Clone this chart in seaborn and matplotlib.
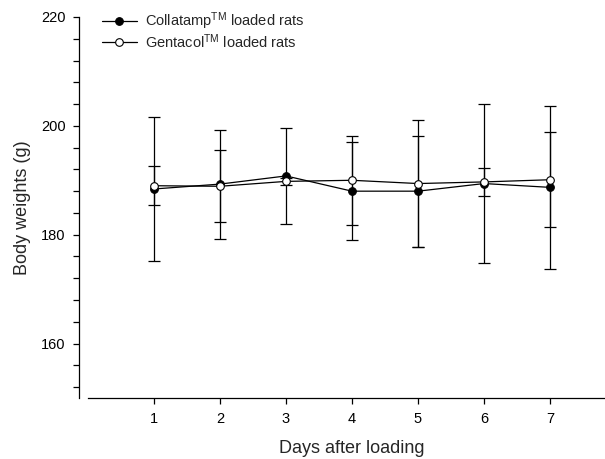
import matplotlib
matplotlib.use("Agg")
import matplotlib.pyplot as plt
import seaborn as sns
import pandas as pd
from matplotlib.ticker import FixedLocator

# ---- data ----
days = [1, 2, 3, 4, 5, 6, 7]
collatamp_mean = [188.4, 189.3, 190.8, 188.0, 188.0, 189.4, 188.7]
collatamp_sd = [13.2, 10.0, 8.8, 8.95, 10.2, 14.65, 14.95]
gentacol_mean = [189.0, 188.9, 189.8, 190.0, 189.4, 189.7, 190.1]
gentacol_sd = [3.6, 6.6, 0.7, 8.2, 11.6, 2.6, 8.7]
series_labels = ["Collatamp$^{\\mathrm{TM}}$ loaded rats",
                 "Gentacol$^{\\mathrm{TM}}$ loaded rats"]
y_major = [160, 180, 200, 220]
y_minor = [152, 156, 164, 168, 172, 176, 184, 188, 192, 196, 204, 208, 212, 216]
x_ticks = [1, 2, 3, 4, 5, 6, 7]

sns.set_style("ticks")
plt.rcParams["font.family"] = ["Liberation Sans", "DejaVu Sans"]
plt.rcParams["mathtext.fontset"] = "custom"
plt.rcParams["mathtext.rm"] = "Liberation Sans"
plt.rcParams["mathtext.it"] = "Liberation Sans:italic"
plt.rcParams["mathtext.bf"] = "Liberation Sans:bold"

fig = plt.figure(figsize=(6.05, 4.59), dpi=100)
ax = fig.add_axes([88/605, 61/459, 528/605, 381/459])

df = pd.DataFrame({
    "day": days * 2,
    "weight": collatamp_mean + gentacol_mean,
    "group": [series_labels[0]] * len(days) + [series_labels[1]] * len(days),
})

# error bars first (behind markers)
ax.errorbar(days, collatamp_mean, yerr=collatamp_sd, fmt="none", ecolor="black",
            elinewidth=0.9, capsize=4.2, capthick=0.9, zorder=1)
ax.errorbar(days, gentacol_mean, yerr=gentacol_sd, fmt="none", ecolor="black",
            elinewidth=0.9, capsize=4.2, capthick=0.9, zorder=1)

sns.lineplot(data=df[df.group == series_labels[0]], x="day", y="weight", ax=ax,
             color="black", lw=0.9, marker="o", markersize=5.5,
             markerfacecolor="black", markeredgecolor="black", markeredgewidth=0.8,
             label=series_labels[0], zorder=3)
sns.lineplot(data=df[df.group == series_labels[1]], x="day", y="weight", ax=ax,
             color="black", lw=0.9, marker="o", markersize=5.5,
             markerfacecolor="white", markeredgecolor="black", markeredgewidth=0.8,
             label=series_labels[1], zorder=4)

ax.set_xlim(0, 8)
ax.set_ylim(150, 220)
ax.xaxis.set_major_locator(FixedLocator(x_ticks))
ax.yaxis.set_major_locator(FixedLocator(y_major))
ax.yaxis.set_minor_locator(FixedLocator(y_minor))

for side in ["top", "right"]:
    ax.spines[side].set_visible(False)
ax.spines["left"].set_position(("outward", 6.5))
for side in ["left", "bottom"]:
    ax.spines[side].set_linewidth(0.9)
    ax.spines[side].set_color("black")

ax.tick_params(axis="both", which="both", direction="out", width=0.9, color="black",
               labelsize=10.5, labelcolor="black")
ax.tick_params(axis="y", which="major", length=4, pad=5.5)
ax.tick_params(axis="y", which="minor", length=4)
ax.tick_params(axis="x", which="major", length=4, pad=6)

ax.set_xlabel("Days after loading", fontsize=13)
ax.set_ylabel("Body weights (g)", fontsize=13)
ax.xaxis.set_label_coords(0.5, -0.11)
ax.yaxis.set_label_coords(-0.1085, 0.5)

leg = ax.legend(loc="center left", bbox_to_anchor=(102/605, 1 - 30.5/459),
                bbox_transform=fig.transFigure, frameon=False, fontsize=10.5,
                borderpad=0, borderaxespad=0, handlelength=2.4, handletextpad=0.55,
                labelspacing=0.0)

fig.savefig("out.png", dpi=100)
